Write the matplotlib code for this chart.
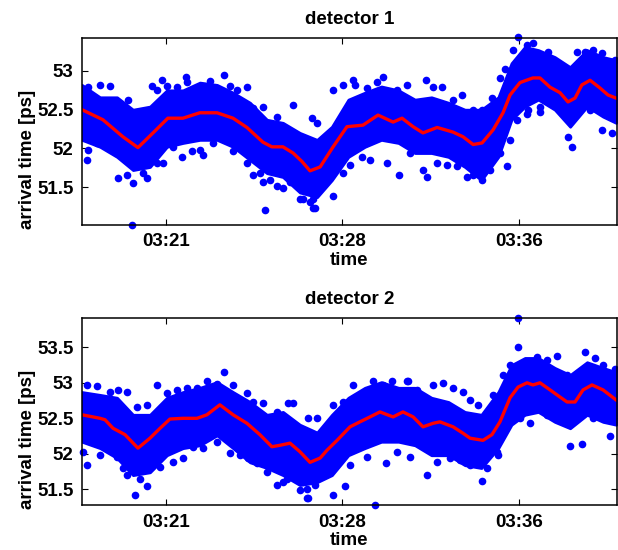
import matplotlib
matplotlib.use("Agg")
import matplotlib.pyplot as plt

# ---------------- data (time in minutes after 03:00, values in ps) ----------------
env_t = [17.43, 18.20, 18.92, 19.60, 20.32, 21.04, 21.72, 22.44, 23.17, 23.85, 24.57,
         25.29, 25.97, 26.69, 27.42, 28.05, 28.75, 29.45, 30.15, 30.88, 31.58, 32.28,
         33.00, 33.70, 34.40, 35.12, 35.68, 36.25, 36.82, 37.52, 38.17, 38.89, 39.57, 40.12]

d1_upper = [52.82, 52.66, 52.66, 52.50, 52.54, 52.75, 52.75, 52.85, 52.82, 52.72, 52.59,
            52.37, 52.33, 52.20, 52.11, 52.28, 52.63, 52.72, 52.80, 52.75, 52.63, 52.66,
            52.59, 52.50, 52.50, 52.66, 53.10, 53.31, 53.27, 53.18, 53.05, 53.27, 53.18, 53.14]
d1_lower = [52.11, 52.02, 51.89, 51.72, 51.76, 52.02, 52.07, 52.11, 52.11, 52.02, 51.85,
            51.68, 51.63, 51.43, 51.37, 51.59, 51.89, 52.02, 52.11, 52.07, 51.94, 51.94,
            51.89, 51.76, 51.59, 51.89, 52.37, 52.54, 52.63, 52.50, 52.28, 52.54, 52.41, 52.33]

d2_upper = [52.87, 52.83, 52.79, 52.55, 52.55, 52.79, 52.87, 52.93, 53.01, 52.87, 52.73,
            52.55, 52.59, 52.41, 52.30, 52.55, 52.79, 52.93, 53.01, 52.93, 52.93, 52.79,
            52.73, 52.59, 52.55, 52.87, 53.25, 53.35, 53.35, 53.21, 53.11, 53.29, 53.21, 53.15]
d2_lower = [52.17, 52.08, 51.94, 51.70, 51.74, 51.98, 52.08, 52.12, 52.26, 52.08, 51.88,
            51.80, 51.70, 51.56, 51.60, 51.70, 51.98, 52.08, 52.17, 52.17, 52.12, 51.98,
            51.98, 51.84, 51.80, 52.08, 52.41, 52.55, 52.59, 52.45, 52.36, 52.55, 52.45, 52.41]

d1_pts_t = [19.56, 25.21, 23.46, 21.85, 20.83, 18.20, 18.96, 19.60, 17.64, 20.19, 26.40,
            24.44, 27.33, 26.82, 24.99, 25.97, 22.44, 21.68, 35.96, 32.05, 32.73, 30.90,
            32.09, 28.10, 35.49, 38.25, 39.53, 39.95, 34.43, 33.79, 28.95, 30.22, 40.08,
            38.46, 39.14, 36.59, 36.38, 36.89,
            17.70, 18.62, 19.40, 20.39, 20.60, 21.03, 21.45, 21.88, 22.44, 22.87, 23.72,
            24.00, 24.71, 25.13, 25.70, 27.19, 27.40,
            17.70, 18.06, 19.33, 20.04, 20.60, 20.89, 21.31, 22.09, 22.58, 23.01, 23.86,
            24.43, 24.71, 25.13, 25.42, 25.70, 26.27, 26.69, 27.12, 27.26,
            28.11, 28.53, 29.03, 29.53, 29.95, 30.80, 31.23, 32.36, 33.21, 33.56, 34.06,
            34.41, 34.84, 35.19, 35.40, 35.76, 36.33, 37.24, 38.03, 38.80, 39.51,
            27.26, 28.53, 28.82, 29.32, 29.67, 30.38, 31.37, 31.93, 32.50, 32.93, 33.35,
            34.06, 34.77, 35.19, 35.62, 35.90, 36.33, 36.89, 38.10, 39.02]
d1_pts_v = [51.01, 51.21, 52.95, 52.92, 52.88, 52.82, 51.62, 51.55, 51.85, 51.62, 52.56,
            52.79, 51.23, 51.34, 51.68, 51.49, 51.98, 51.89, 53.44, 52.88, 52.79, 51.65,
            51.63, 51.39, 51.77, 52.02, 52.24, 52.20, 51.59, 51.63, 52.88, 52.92, 53.14,
            53.25, 53.27, 53.36, 52.50, 52.47,
            52.79, 52.81, 52.63, 52.81, 52.75, 52.80, 52.79, 52.86, 52.79, 52.87, 52.81,
            52.76, 52.52, 52.54, 52.41, 52.39, 52.33,
            51.98, 52.07, 51.66, 51.68, 51.81, 51.81, 52.02, 51.96, 51.92, 52.07, 51.96,
            51.81, 51.66, 51.57, 51.59, 51.51, 51.57, 51.34, 51.31, 51.23,
            52.75, 52.82, 52.82, 52.78, 52.86, 52.76, 52.82, 52.79, 52.63, 52.69, 52.50,
            52.49, 52.65, 52.91, 53.03, 53.27, 53.34, 53.25, 53.03, 53.25, 53.23,
            51.34, 51.68, 51.79, 51.89, 51.85, 51.81, 51.94, 51.72, 51.81, 51.79, 51.77,
            51.66, 51.72, 51.94, 52.11, 52.37, 52.45, 52.54, 52.15, 52.50]

d2_pts_t = [19.68, 20.19, 17.64, 18.20, 20.62, 23.46, 17.64, 21.72, 23.72, 25.72, 25.97,
            27.03, 26.40, 19.34, 35.96, 29.88, 28.10, 28.61, 30.35, 32.09, 34.43, 35.96,
            37.61, 38.80, 38.17, 38.68, 39.87, 33.62, 32.77, 31.28, 29.80, 28.95, 37.19,
            36.47, 35.11, 26.99,
            18.06, 18.62, 18.97, 19.33, 19.76, 20.18, 21.03, 21.45, 21.88, 22.30, 22.73,
            23.15, 23.86, 24.43, 24.71, 25.13, 25.70, 26.20, 27.05, 27.40,
            17.49, 18.91, 19.19, 19.33, 19.90, 20.75, 21.31, 22.16, 22.58, 23.15, 24.14,
            24.50, 24.85, 25.28, 26.13, 26.69, 27.33,
            28.11, 28.53, 29.38, 30.23, 30.59, 31.23, 31.65, 32.36, 33.21, 33.92, 34.27,
            34.91, 35.33, 35.62, 36.47, 36.75, 37.18, 38.03, 38.45, 39.23, 39.58, 40.08,
            26.98, 27.54, 28.82, 29.53, 30.80, 31.37, 32.50, 33.07, 33.49, 33.92, 34.63,
            35.05, 35.19, 35.54, 36.04, 37.74, 39.16]
d2_pts_v = [51.42, 51.55, 51.84, 51.98, 52.97, 53.15, 52.97, 51.94, 52.01, 51.56, 51.60,
            51.38, 52.72, 52.31, 53.91, 51.28, 51.42, 51.55, 51.87, 51.70, 51.62, 53.50,
            53.38, 53.43, 52.11, 52.14, 52.25, 52.87, 53.00, 53.03, 53.03, 52.97, 52.55,
            52.43, 51.98, 51.38,
            52.96, 52.87, 52.90, 52.87, 52.66, 52.69, 52.85, 52.90, 52.92, 52.92, 53.02,
            52.99, 52.97, 52.85, 52.73, 52.71, 52.59, 52.71, 52.50, 52.50,
            52.03, 51.96, 51.80, 51.70, 51.65, 51.82, 51.89, 52.10, 52.08, 52.17, 51.98,
            51.94, 51.87, 51.75, 51.65, 51.49, 51.56,
            52.69, 52.73, 52.83, 52.97, 53.02, 53.03, 52.90, 52.97, 52.92, 52.76, 52.69,
            52.83, 53.11, 53.25, 53.27, 53.37, 53.32, 53.11, 53.11, 53.35, 53.25, 53.20,
            51.51, 51.70, 51.84, 51.96, 52.03, 51.96, 51.89, 51.94, 51.91, 51.84, 51.80,
            52.03, 52.22, 52.45, 52.50, 52.50, 52.50]

d1_avg_t = [17.43, 18.32, 19.17, 19.81, 20.45, 21.08, 21.72, 22.44, 23.17, 23.85, 24.44,
            25.12, 25.50, 25.97, 26.40, 26.78, 27.12, 27.55, 28.10, 28.69, 29.37, 30.01,
            30.65, 31.03, 31.50, 31.92, 32.52, 33.20, 33.62, 34.05, 34.43, 34.90, 35.32,
            35.62, 36.04, 36.59, 36.89, 37.32, 37.74, 38.08, 38.38, 38.67, 39.02, 39.44,
            39.78, 40.12]
d1_avg_v = [52.50, 52.37, 52.15, 52.01, 52.20, 52.39, 52.39, 52.46, 52.46, 52.39, 52.27,
            52.08, 52.02, 52.02, 51.94, 51.83, 51.71, 51.76, 52.02, 52.28, 52.30, 52.43,
            52.34, 52.39, 52.28, 52.20, 52.27, 52.21, 52.15, 52.05, 52.07, 52.24, 52.46,
            52.69, 52.85, 52.91, 52.91, 52.79, 52.72, 52.60, 52.65, 52.82, 52.88, 52.78,
            52.69, 52.65]

d2_avg_t = [17.43, 18.20, 18.41, 18.75, 19.26, 19.81, 20.32, 20.75, 21.17, 21.72, 22.32,
            22.74, 23.29, 23.85, 24.44, 24.99, 25.50, 25.84, 26.27, 26.69, 27.12, 27.55,
            27.84, 28.27, 28.82, 29.24, 29.67, 30.09, 30.65, 31.07, 31.50, 31.92, 32.35,
            32.64, 33.20, 33.62, 33.92, 34.47, 34.85, 35.19, 35.62, 35.96, 36.34, 36.59,
            36.89, 37.32, 37.74, 38.04, 38.38, 38.72, 39.10, 39.57, 40.12]
d2_avg_v = [52.55, 52.50, 52.48, 52.36, 52.27, 52.08, 52.22, 52.36, 52.49, 52.50, 52.50,
            52.55, 52.69, 52.55, 52.43, 52.27, 52.10, 52.12, 52.15, 52.03, 51.88, 51.94,
            52.05, 52.19, 52.38, 52.45, 52.52, 52.59, 52.52, 52.59, 52.52, 52.38, 52.43,
            52.45, 52.38, 52.29, 52.22, 52.19, 52.27, 52.45, 52.79, 52.94, 53.00, 52.97,
            53.00, 52.90, 52.80, 52.73, 52.73, 52.90, 52.97, 52.90, 52.76]

tick_pos = [21.0, 28.5, 36.0]
tick_labels = ["03:21", "03:28", "03:36"]
titles = ["detector 1", "detector 2"]
y_ticks = [[51.5, 52, 52.5, 53], [51.5, 52, 52.5, 53, 53.5]]
y_labels = [["51.5", "52", "52.5", "53"], ["51.5", "52", "52.5", "53", "53.5"]]

# ---------------- figure ----------------
plt.rcParams["font.family"] = ["Liberation Sans", "DejaVu Sans"]
plt.rcParams["font.weight"] = "bold"
FS = 13.5

fig = plt.figure(figsize=(6.18, 5.5), dpi=100)
ax1 = fig.add_axes([81.7 / 618, 1 - 225 / 550, (616.7 - 81.7) / 618, (225 - 37.7) / 550])
ax2 = fig.add_axes([81.7 / 618, 1 - 505.3 / 550, (616.7 - 81.7) / 618, (505.3 - 317.7) / 550])

panels = [
    (ax1, d1_upper, d1_lower, d1_pts_t, d1_pts_v, d1_avg_t, d1_avg_v, (51.01, 53.43)),
    (ax2, d2_upper, d2_lower, d2_pts_t, d2_pts_v, d2_avg_t, d2_avg_v, (51.275, 53.917)),
]

for i, (ax, up, lo, pt, pv, at, av, ylim) in enumerate(panels):
    ax.fill_between(env_t, lo, up, color="#0000ff", lw=2, edgecolor="#0000ff",
                    joinstyle="round", zorder=2)
    ax.plot(pt, pv, "o", color="#0000ff", ms=5.5, mew=0, zorder=2, clip_on=False)
    ax.plot(at, av, "-", color="#ff0000", lw=2.4, zorder=3)
    ax.set_xlim(17.42, 40.15)
    ax.set_ylim(*ylim)
    ax.set_xticks(tick_pos)
    ax.set_xticklabels(tick_labels, fontsize=FS, fontweight="bold")
    ax.set_yticks(y_ticks[i])
    ax.set_yticklabels(y_labels[i], fontsize=FS, fontweight="bold")
    ax.tick_params(direction="in", length=4, width=0.8, top=True, right=True, pad=6)
    for s in ax.spines.values():
        s.set_linewidth(1.1)
        s.set_zorder(5)
    ax.set_title(titles[i], fontsize=FS, fontweight="bold", pad=10)
    ax.set_xlabel("time", fontsize=FS, fontweight="bold", labelpad=1)
    ax.set_ylabel("arrival time [ps]", fontsize=FS, fontweight="bold", labelpad=1)
    ax.yaxis.label.set_y(0.35)

fig.savefig("out.png", dpi=100)
